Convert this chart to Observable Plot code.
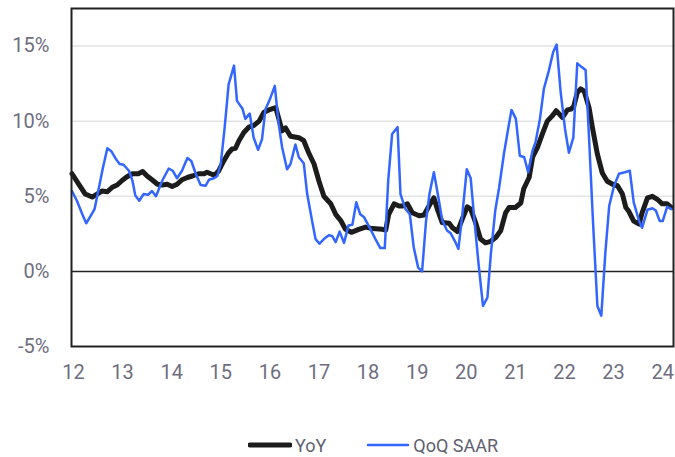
<!DOCTYPE html>
<html>
<head>
<meta charset="utf-8">
<script src="https://cdn.jsdelivr.net/npm/d3@7"></script>
<script src="https://cdn.jsdelivr.net/npm/@observablehq/plot@0.6"></script>
<style>
  body { margin: 0; background: #fff; font-family: Roboto, "Open Sans", sans-serif; }
  #legend { display: flex; justify-content: center; align-items: center; padding-left: 71px; padding-top: 8px; height: 24px; font-size: 18px; color: #5f5f6e; }
  #legend .item { display: flex; align-items: center; margin: 0 20px; }
  #legend svg { margin-right: 3px; }
</style>
</head>
<body>
<div id="chart"></div>
<div id="legend"></div>
<script>
// Series names
const seriesNames = ["YoY", "QoQ SAAR"];
const seriesColors = ["#1c1c1c", "#3366ff"];

// YoY: decimal year and percent
const yoyX = [2011.97,2012.11,2012.24,2012.38,2012.48,2012.58,2012.69,2012.79,2012.89,2012.99,2013.09,2013.20,2013.32,2013.41,2013.50,2013.60,2013.71,2013.81,2013.91,2014.01,2014.11,2014.21,2014.32,2014.42,2014.55,2014.66,2014.72,2014.83,2014.89,2014.96,2015.06,2015.16,2015.23,2015.30,2015.37,2015.47,2015.57,2015.67,2015.78,2015.88,2015.98,2016.12,2016.25,2016.32,2016.42,2016.59,2016.69,2016.79,2016.90,2017.00,2017.10,2017.24,2017.34,2017.44,2017.54,2017.66,2017.81,2017.95,2018.09,2018.29,2018.36,2018.42,2018.53,2018.63,2018.70,2018.80,2018.90,2019.04,2019.14,2019.24,2019.34,2019.41,2019.51,2019.65,2019.72,2019.82,2019.92,2020.02,2020.09,2020.19,2020.29,2020.39,2020.50,2020.60,2020.70,2020.80,2020.87,2021.00,2021.11,2021.17,2021.28,2021.35,2021.45,2021.55,2021.65,2021.75,2021.83,2021.96,2022.06,2022.13,2022.19,2022.26,2022.33,2022.40,2022.50,2022.57,2022.67,2022.77,2022.87,2022.98,2023.08,2023.18,2023.25,2023.31,2023.41,2023.52,2023.58,2023.69,2023.79,2023.89,2023.99,2024.09,2024.18];
const yoyY = [6.5,5.8,5.15,4.95,5.15,5.35,5.3,5.6,5.75,6.05,6.3,6.5,6.5,6.65,6.35,6.1,5.8,5.75,5.8,5.65,5.8,6.1,6.25,6.35,6.5,6.5,6.6,6.45,6.45,6.7,7.35,7.9,8.15,8.2,8.7,9.25,9.6,9.7,10.0,10.6,10.75,10.9,9.35,9.55,9.0,8.9,8.7,7.9,7.15,6.0,5.0,4.5,3.8,3.4,2.8,2.6,2.8,2.95,2.85,2.8,2.75,3.8,4.5,4.35,4.35,4.5,3.9,3.7,3.75,4.35,4.9,4.15,3.25,3.2,2.9,2.65,3.5,4.3,4.15,3.25,2.15,1.9,2.0,2.25,2.7,3.9,4.25,4.25,4.55,5.5,6.25,7.6,8.25,9.15,10.0,10.35,10.7,10.25,10.75,10.8,11.0,11.9,12.15,12.0,10.9,9.55,7.8,6.55,6.0,5.8,5.7,5.15,4.25,4.0,3.35,3.15,3.9,4.9,5.0,4.8,4.5,4.5,4.25];

// QoQ SAAR: decimal year and percent
const qoqX = [2011.97,2012.07,2012.18,2012.26,2012.35,2012.43,2012.52,2012.60,2012.69,2012.77,2012.86,2012.94,2013.02,2013.13,2013.20,2013.26,2013.34,2013.43,2013.52,2013.60,2013.68,2013.81,2013.94,2014.02,2014.11,2014.21,2014.32,2014.40,2014.49,2014.59,2014.69,2014.76,2014.86,2014.93,2015.00,2015.08,2015.16,2015.27,2015.33,2015.44,2015.50,2015.59,2015.67,2015.76,2015.84,2015.91,2016.00,2016.10,2016.18,2016.25,2016.35,2016.42,2016.52,2016.59,2016.69,2016.76,2016.86,2016.93,2017.01,2017.10,2017.20,2017.27,2017.34,2017.42,2017.51,2017.60,2017.68,2017.76,2017.84,2017.92,2018.05,2018.15,2018.25,2018.34,2018.41,2018.49,2018.60,2018.66,2018.76,2018.85,2018.93,2019.02,2019.10,2019.18,2019.25,2019.34,2019.42,2019.51,2019.61,2019.68,2019.77,2019.84,2019.92,2020.01,2020.09,2020.16,2020.25,2020.34,2020.43,2020.50,2020.59,2020.67,2020.77,2020.84,2020.92,2021.01,2021.09,2021.18,2021.26,2021.35,2021.41,2021.50,2021.58,2021.68,2021.77,2021.84,2021.92,2022.01,2022.09,2022.18,2022.26,2022.35,2022.43,2022.50,2022.58,2022.67,2022.75,2022.83,2022.91,2023.01,2023.11,2023.23,2023.33,2023.41,2023.52,2023.58,2023.69,2023.79,2023.86,2023.94,2024.00,2024.09,2024.18];
const qoqY = [5.35,4.7,3.8,3.2,3.7,4.15,5.6,6.9,8.2,8.0,7.5,7.15,7.1,6.7,6.05,5.05,4.7,5.15,5.1,5.35,5.0,6.05,6.85,6.7,6.2,6.7,7.55,7.35,6.5,5.75,5.7,6.1,6.2,6.35,7.15,9.6,12.45,13.7,11.35,10.85,10.15,10.5,8.9,8.1,8.8,10.8,11.45,12.35,9.8,8.25,6.8,7.15,8.45,7.6,7.2,5.15,3.35,2.15,1.85,2.15,2.4,2.35,1.95,2.65,1.9,3.05,3.1,4.6,3.8,3.6,2.8,2.15,1.55,1.55,6.05,9.15,9.6,5.15,4.15,3.8,1.6,0.25,0.0,3.35,5.15,6.6,5.15,3.4,2.7,2.55,2.0,1.5,3.8,6.8,6.2,3.6,0.5,-2.3,-1.75,1.15,4.05,5.6,7.9,9.25,10.75,10.15,7.7,7.6,6.6,8.05,8.6,10.15,12.15,13.35,14.6,15.1,12.0,9.5,7.9,8.9,13.85,13.6,13.4,8.9,3.35,-2.3,-2.95,1.15,4.35,5.7,6.5,6.6,6.7,4.6,3.35,2.9,4.1,4.2,4.05,3.35,3.35,4.3,4.15];

// Axis ticks
const yTicks = [-5, 0, 5, 10, 15];
const xTicks = [2012,2013,2014,2015,2016,2017,2018,2019,2020,2021,2022,2023,2024];
const gridValues = [5, 10, 15];

const yoy = yoyX.map((x, i) => ({x, y: yoyY[i]}));
const qoq = qoqX.map((x, i) => ({x, y: qoqY[i]}));

const chart = Plot.plot({
  width: 675,
  height: 425,
  marginLeft: 71,
  marginRight: 2,
  marginTop: 8,
  marginBottom: 79,
  style: { fontFamily: "Roboto, 'Open Sans', sans-serif", fontSize: "20px", color: "#6e6e80", background: "#fff" },
  x: { domain: [2011.96, 2024.22] },
  y: { domain: [-5, 17.5] },
  marks: [
    Plot.ruleY(gridValues, { stroke: "#e3e3e3", strokeWidth: 1.5 }),
    Plot.ruleY([0], { stroke: "#222", strokeWidth: 1.5 }),
    Plot.line(yoy, { x: "x", y: "y", stroke: seriesColors[0], strokeWidth: 5, strokeLinejoin: "round" }),
    Plot.line(qoq, { x: "x", y: "y", stroke: seriesColors[1], strokeWidth: 2.5, strokeLinejoin: "round" }),
    Plot.frame({ stroke: "#222", strokeWidth: 2 }),
    Plot.axisY(yTicks, { tickSize: 0, tickPadding: 22, tickFormat: d => d + "%", fill: "#6e6e80", label: null }),
    Plot.axisX(xTicks, { tickSize: 0, tickPadding: 18, tickFormat: d => String(d % 100), fill: "#6e6e80", label: null })
  ]
});
document.getElementById("chart").appendChild(chart);

const legend = document.getElementById("legend");
seriesNames.forEach((name, i) => {
  const item = document.createElement("div");
  item.className = "item";
  const w = i === 0 ? 5 : 2.5;
  item.innerHTML = `<svg width="44" height="10"><line x1="2" y1="5" x2="42" y2="5" stroke="${seriesColors[i]}" stroke-width="${w}" stroke-linecap="round"/></svg><span>${name}</span>`;
  legend.appendChild(item);
});
</script>
</body>
</html>
